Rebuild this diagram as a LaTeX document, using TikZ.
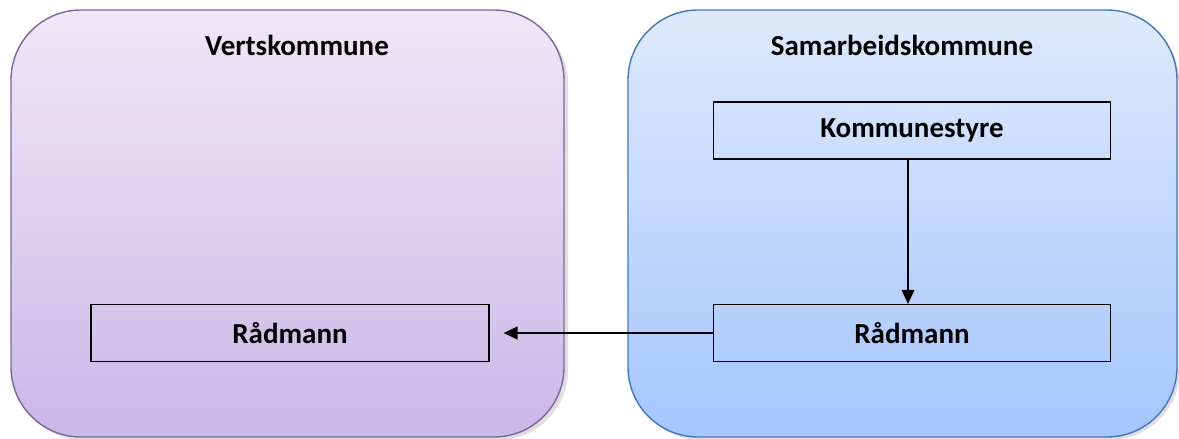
\documentclass[tikz,border=0pt]{standalone}
\usepackage{fontspec}
\setmainfont{Carlito}
\usetikzlibrary{arrows.meta}
\definecolor{lvtop}{RGB}{238,232,248}
\definecolor{lvbot}{RGB}{202,184,230}
\definecolor{lvline}{RGB}{128,100,162}
\definecolor{bltop}{RGB}{222,234,252}
\definecolor{blbot}{RGB}{166,198,254}
\definecolor{blline}{RGB}{70,118,186}
\tikzset{
  region/.style={rounded corners=70pt, line width=1.4pt},
  title/.style={font=\bfseries\fontsize{29}{34}\selectfont, anchor=center},
  unitbox/.style={draw=black, line width=1.3pt, minimum width=397pt, font=\bfseries\fontsize{29}{34}\selectfont, inner sep=0pt},
  link/.style={line width=1.2pt, -{Triangle[length=14pt,width=13pt]}}
}
\begin{document}
\begin{tikzpicture}[x=1pt,y=-1pt]
\useasboundingbox (0,0) rectangle (1179,439);
% shadows
\fill[black!25, opacity=0.5, rounded corners=70pt] (14,14) rectangle (568,440);
\fill[black!25, opacity=0.5, rounded corners=70pt] (631,14) rectangle (1180,440);
% regions
\shade[region, top color=lvtop, bottom color=lvbot, draw=lvline] (11,10) rectangle (564,437);
\shade[region, top color=bltop, bottom color=blbot, draw=blline] (628,10) rectangle (1177,437);
\node[title] (t1) at (297,45) {Vertskommune};
\node[title] (t2) at (902,45) {Samarbeidskommune};
% boxes
\node[unitbox, minimum height=57pt] (k) at (912,130.5) {Kommunestyre};
\node[unitbox, minimum height=57pt] (r2) at (912,333) {Rådmann};
\node[unitbox, minimum height=57pt, minimum width=398pt] (r1) at (290,333) {Rådmann};
% connectors
\draw[link] ([xshift=-4pt]k.south) -- ([xshift=-4pt]r2.north);
\draw[link, shorten >=14pt] (r2.west) -- (r1.east);
\end{tikzpicture}
\end{document}
